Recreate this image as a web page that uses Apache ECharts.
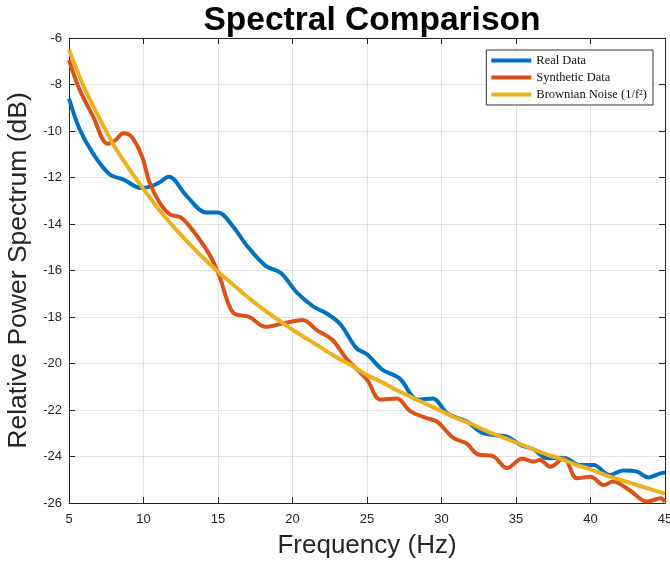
<!DOCTYPE html>
<html><head><meta charset="utf-8">
<script src="https://cdn.jsdelivr.net/npm/echarts@6/dist/echarts.min.js"></script>
<style>html,body{margin:0;padding:0;background:#fff;overflow:hidden;width:670px;height:566px}#c{width:670px;height:566px}</style>
</head><body><div id="c"></div>
<script>
const realFreq = [5,5.7,6.6,7.7,8.7,9.8,10.5,11.1,11.7,12.9,14.2,15.0,16.0,16.9,18.2,19.2,20.3,21.4,22.3,23.2,24.3,25.0,26.0,27.2,28.4,29.4,30.4,31.7,32.8,34.4,35.3,36.2,37.1,38.2,39.3,40.2,41.3,42.2,43.1,43.9,44.9,45];
const realVals = [-8.6,-9.9,-10.95,-11.85,-12.1,-12.45,-12.38,-12.2,-11.97,-12.8,-13.5,-13.5,-14.1,-14.9,-15.8,-16.1,-16.95,-17.55,-17.85,-18.3,-19.35,-19.6,-20.25,-20.65,-21.55,-21.5,-22.15,-22.5,-23.0,-23.15,-23.5,-23.7,-24.08,-24.05,-24.37,-24.37,-24.8,-24.6,-24.65,-24.9,-24.7,-24.7];
const synFreq = [5,5.7,6.6,7.6,8.1,8.65,9.2,9.9,10.4,11.1,11.8,12.45,12.9,13.8,14.5,15.1,16.0,17.1,18.2,19.4,20.7,21.6,22.7,23.6,25.0,25.9,27.0,27.9,29.0,29.7,30.8,31.7,32.4,33.5,34.4,35.4,36.2,36.6,37.3,38.2,39.1,40.0,40.9,41.5,42.6,43.8,44.7,45];
const synVals = [-6.95,-8.2,-9.35,-10.55,-10.4,-10.1,-10.25,-11.1,-12.2,-13.1,-13.6,-13.7,-13.95,-14.7,-15.4,-16.25,-17.8,-18.0,-18.42,-18.27,-18.13,-18.55,-19.0,-19.78,-20.7,-21.55,-21.5,-22.05,-22.35,-22.5,-23.2,-23.45,-23.9,-24.0,-24.5,-24.1,-24.22,-24.15,-24.44,-24.08,-24.94,-24.87,-25.23,-25.08,-25.44,-25.94,-25.8,-25.94];
const brownFreq = [5,6,7,8,9,10,11,12,13,14,15,16,17,18,19,20,21,22,23,24,25,26,27,28,29,30,31,32,33,34,35,36,37,38,39,40,41,42,43,44,45];
const brownVals = [-6.5,-8.1,-9.4,-10.6,-11.6,-12.5,-13.35,-14.1,-14.8,-15.45,-16.05,-16.6,-17.15,-17.65,-18.1,-18.55,-18.95,-19.35,-19.75,-20.1,-20.5,-20.8,-21.15,-21.45,-21.75,-22.05,-22.35,-22.6,-22.9,-23.15,-23.4,-23.65,-23.9,-24.1,-24.35,-24.55,-24.8,-25.0,-25.2,-25.4,-25.6];
const xTicks = [5,10,15,20,25,30,35,40,45];
const yTicks = [-26,-24,-22,-20,-18,-16,-14,-12,-10,-8,-6];
const seriesNames = ['Real Data','Synthetic Data','Brownian Noise (1/f²)'];

const zip = (a,b) => a.map((v,i)=>[v,b[i]]);
const axisCol = '#262626';
const font = 'Liberation Sans, Arial, sans-serif';
const chart = echarts.init(document.getElementById('c'), null, {width:670, height:566});
const baseX = {type:'value', min:5, max:45, interval:5,
  axisLine:{show:true,lineStyle:{color:axisCol,width:1}},
  axisTick:{show:true,inside:true,length:6,lineStyle:{color:axisCol}},
  splitLine:{show:false}};
const baseY = {type:'value', min:-26, max:-6, interval:2,
  axisLine:{show:true,lineStyle:{color:axisCol,width:1}},
  axisTick:{show:true,inside:true,length:6,lineStyle:{color:axisCol}},
  splitLine:{show:false}};
chart.setOption({
  animation:false,
  backgroundColor:'#fff',
  title:{text:'Spectral Comparison', left:367, top:-1, textAlign:'center',
    textStyle:{fontFamily:font, fontWeight:'bold', fontSize:33.5, color:'#000'}},
  grid:{left:69, right:5, top:38, bottom:63, containLabel:false, outerBoundsMode:'none'},
  legend:{orient:'vertical', right:17, top:50, data:seriesNames,
    backgroundColor:'#fff', borderColor:'#333', borderWidth:1, padding:[4,6,4,5],
    itemWidth:40, itemHeight:4, itemGap:4, icon:'rect',
    textStyle:{fontFamily:'Liberation Serif, DejaVu Serif, serif', fontSize:12.5, color:'#111'}},
  xAxis:[
    Object.assign({}, baseX, {position:'bottom', name:'Frequency (Hz)', nameLocation:'middle', nameGap:30,
      nameTextStyle:{fontFamily:font, fontSize:26, color:axisCol},
      axisLabel:{show:true, fontFamily:font, fontSize:13, color:axisCol, margin:10,
        formatter:(v)=> xTicks.includes(v)? String(v):''},
      splitLine:{show:true, lineStyle:{color:'#e3e3e3', width:1}}}),
    Object.assign({}, baseX, {position:'top', axisLabel:{show:false}})
  ],
  yAxis:[
    Object.assign({}, baseY, {position:'left', name:'Relative Power Spectrum (dB)', nameLocation:'middle', nameGap:31,
      nameTextStyle:{fontFamily:font, fontSize:26.5, color:axisCol},
      axisLabel:{show:true, fontFamily:font, fontSize:13, color:axisCol, margin:7,
        formatter:(v)=> yTicks.includes(v)? String(v):''},
      splitLine:{show:true, lineStyle:{color:'#e3e3e3', width:1}}}),
    Object.assign({}, baseY, {position:'right', axisLabel:{show:false}})
  ],
  series:[
    {name:seriesNames[0], type:'line', data:zip(realFreq,realVals), smooth:0.35, showSymbol:false,
      lineStyle:{color:'#0072BD', width:4}, itemStyle:{color:'#0072BD'}, z:3},
    {name:seriesNames[1], type:'line', data:zip(synFreq,synVals), smooth:0.35, showSymbol:false,
      lineStyle:{color:'#D95319', width:4}, itemStyle:{color:'#D95319'}, z:4},
    {name:seriesNames[2], type:'line', data:zip(brownFreq,brownVals), smooth:0.3, showSymbol:false,
      lineStyle:{color:'#EDB120', width:4}, itemStyle:{color:'#EDB120'}, z:5}
  ]
});
</script></body></html>
